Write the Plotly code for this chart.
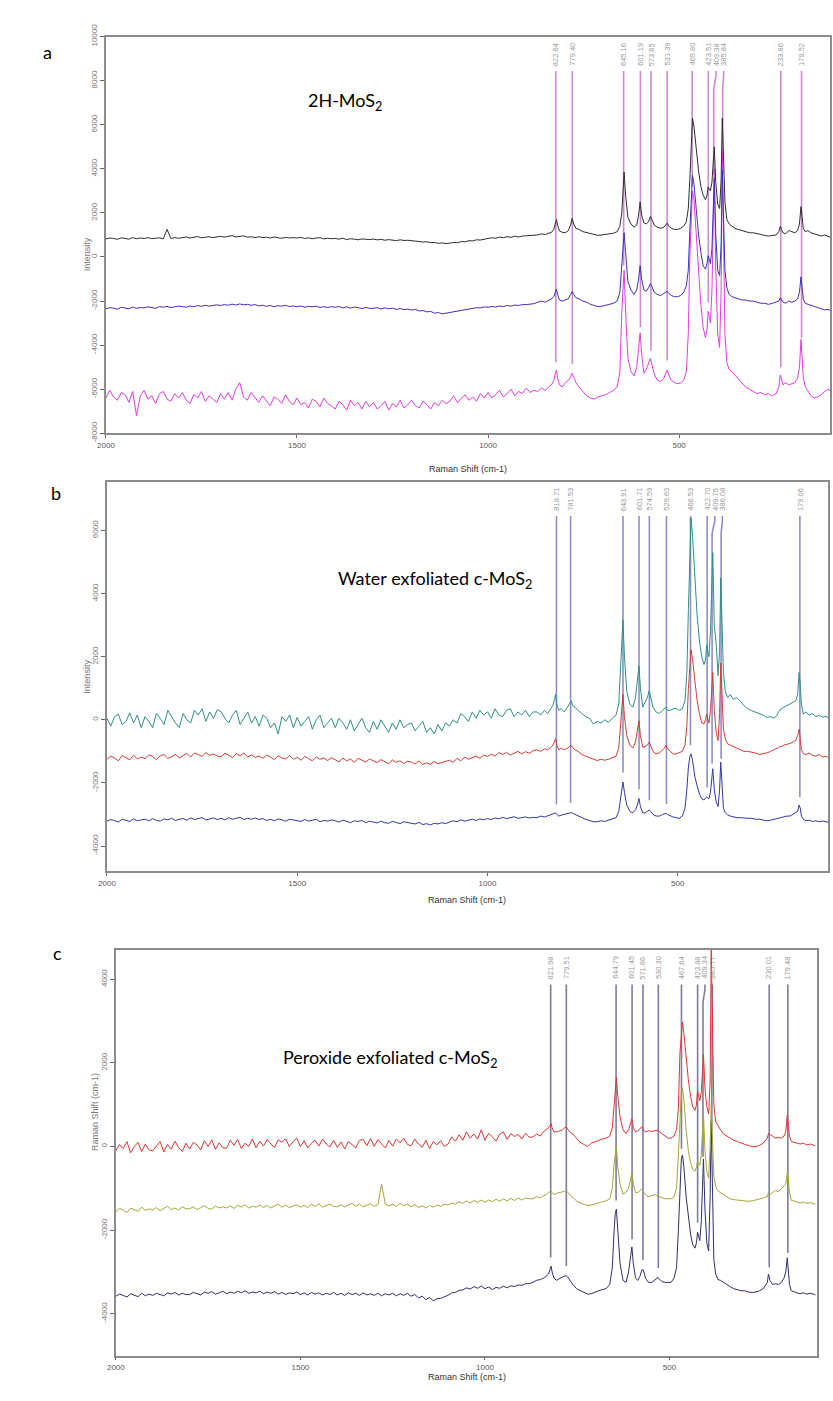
import numpy as np
import plotly.graph_objects as go

W, H = 833, 1401

# ---------------- data ----------------
raman_shift = [
    2000, 1990, 1980, 1970, 1960, 1950, 1940, 1930, 1920, 1910,
    1900, 1890, 1880, 1870, 1860, 1850, 1840, 1830, 1820, 1810,
    1800, 1790, 1780, 1770, 1760, 1750, 1740, 1730, 1720, 1710,
    1700, 1690, 1680, 1670, 1660, 1650, 1640, 1630, 1620, 1610,
    1600, 1590, 1580, 1570, 1560, 1550, 1540, 1530, 1520, 1510,
    1500, 1490, 1480, 1470, 1460, 1450, 1440, 1430, 1420, 1410,
    1400, 1390, 1380, 1370, 1360, 1350, 1340, 1330, 1320, 1310,
    1300, 1290, 1280, 1270, 1260, 1250, 1240, 1230, 1220, 1210,
    1200, 1190, 1180, 1170, 1160, 1150, 1140, 1130, 1120, 1110,
    1100, 1090, 1080, 1070, 1060, 1050, 1040, 1030, 1020, 1010,
    1000, 990, 980, 970, 960, 950, 940, 930, 920, 910,
    900, 890, 880,
    870, 860, 850, 842, 834, 828, 824, 821, 818, 813,
    806, 798, 790, 784, 780, 776, 770, 762, 752, 742,
    732, 722, 712, 702, 692, 682, 672, 662, 655, 650,
    647, 644, 640, 634, 626, 618, 611, 606, 602, 598,
    592, 586, 580, 575, 571, 565, 557, 548, 540, 535,
    531, 527, 520, 512, 504, 496, 488, 481, 476, 472,
    468, 465, 461, 455, 449, 443, 437, 431, 427, 424,
    421, 418, 414, 411, 408, 404, 399, 394, 390, 387,
    384, 380, 375, 369, 362, 354, 345, 336, 326, 316,
    306, 296, 286, 276, 266, 256, 246, 239, 235, 232,
    228, 221, 213, 205, 197, 190, 185, 181, 178, 175,
    170, 163, 155, 146, 137, 128, 119, 110, 105,
]

# panel a : 2H-MoS2
a_black = [
    820, 860, 840, 800, 870, 850, 810, 880, 830, 860,
    840, 880, 830, 850, 870, 820, 1250, 840, 880, 850,
    880, 910, 860, 900, 930, 870, 890, 920, 880, 910,
    940, 900, 950, 970, 910, 930, 960, 900, 920, 880,
    920, 880, 900, 860, 910, 870, 850, 890, 860, 880,
    860, 890, 840, 870, 830, 860, 880, 820, 850, 830,
    840, 810, 850, 790, 830, 810, 780, 820, 800, 790,
    810, 780, 800, 760, 790, 770, 740, 780, 750, 760,
    740, 710, 720, 680, 690, 650, 660, 620, 640, 610,
    630, 660, 650, 700, 690, 740, 730, 780, 770, 820,
    840, 870, 850, 900, 880, 920, 890, 940, 910, 950,
    960, 990, 1000,
    1000, 1050, 1020, 1080, 1120, 1250, 1500, 1700, 1450, 1180,
    1120, 1100, 1200, 1450, 1750, 1500, 1300, 1250, 1150, 1100,
    1050, 1000, 980, 1000, 1020, 1050, 1080, 1150, 1400, 2000,
    2900, 3850, 2800, 1800, 1500, 1350, 1450, 1900, 2500, 1900,
    1550, 1500, 1600, 1840, 1700, 1450, 1350, 1300, 1350, 1450,
    1540, 1400, 1300, 1250, 1250, 1300, 1400, 1600, 2200, 3500,
    5200, 6300, 5900, 4800, 3900, 3200, 2800, 2600, 2800, 3180,
    3100, 3000, 3400, 4300, 5000, 3400, 2400, 2200, 3500, 6300,
    4500, 2500, 1700, 1500, 1400, 1300, 1250, 1200, 1150, 1100,
    1100, 1050, 1000, 980, 950, 960, 1000, 1150, 1400, 1250,
    1100, 1050, 1200, 1150, 1100, 1200, 1500, 2290, 1800, 1300,
    1150, 1200, 1100, 1050, 1000, 950, 1000, 950, 900,
]
a_blue = [
    -2350, -2300, -2320, -2370, -2280, -2310, -2350, -2270, -2330, -2290,
    -2310, -2260, -2290, -2330, -2250, -2280, -2240, -2300, -2260, -2230,
    -2250, -2280, -2220, -2260, -2200, -2240, -2190, -2230, -2200, -2170,
    -2200, -2160, -2190, -2140, -2180, -2130, -2170, -2150, -2190, -2160,
    -2220, -2190, -2240, -2200, -2260, -2210, -2230, -2190, -2250, -2220,
    -2260, -2220, -2280, -2240, -2260, -2230, -2290, -2250, -2300, -2250,
    -2280, -2250, -2310, -2260, -2320, -2270, -2300, -2340, -2290, -2330,
    -2330, -2300, -2360, -2310, -2350, -2320, -2380, -2340, -2390, -2360,
    -2410, -2380, -2450, -2430, -2490, -2470, -2550, -2520, -2580, -2550,
    -2510, -2480, -2450, -2410, -2390, -2350, -2340, -2300, -2310, -2270,
    -2280, -2250, -2270, -2220, -2250, -2200, -2230, -2180, -2200, -2160,
    -2160, -2130, -2120,
    -2050, -2000, -2050, -1980, -1900, -1800, -1600, -1460, -1700, -1950,
    -2000, -1950, -1900, -1700, -1570, -1700, -1850, -1900, -2000, -2050,
    -2150, -2200, -2250, -2230, -2200, -2150, -2100, -2000, -1600, -300,
    600, 1100, 200, -1100, -1500, -1700, -1500, -1000, -390, -1000,
    -1500, -1550, -1400, -1200, -1350, -1600, -1700, -1750, -1650, -1600,
    -1560, -1650, -1750, -1800, -1800, -1750, -1600, -1300, -600, 1200,
    2800, 3700, 3300, 2000, 1000, 200, -400, -550, -300, 60,
    -100, -300, 400, 2200, 3570, 1000, -600, -840, 600, 3930,
    2000, -600, -1400, -1700, -1800, -1850, -1900, -1950, -1950, -2000,
    -2000, -2050, -2100, -2100, -2150, -2100, -2050, -2000, -1850, -1950,
    -2050, -2100, -2000, -2050, -2000, -1900, -1600, -900, -1300, -1900,
    -2100, -2150, -2200, -2250, -2300, -2350, -2400, -2380, -2420,
]
a_magenta = [
    -6400, -6050, -6350, -6500, -6150, -6250, -6600, -6100, -7200, -6300,
    -6050, -6450, -6300, -6650, -6200, -6100, -6450, -6550, -6200, -6400,
    -6150, -6500, -6650, -6250, -6400, -6100, -6550, -6300, -6450, -6600,
    -6200, -6450, -6150, -6500, -6000, -5700, -6350, -6500, -6150, -6400,
    -6600, -6300, -6500, -6750, -6350, -6450, -6650, -6250, -6550, -6700,
    -6400, -6700, -6600, -6850, -6450, -6550, -6800, -6400, -6650, -6750,
    -6900, -6550, -6700, -6950, -6500, -6750, -6600, -6900, -6550, -6800,
    -6600, -6900, -6750, -6550, -6950, -6650, -6800, -6500, -6850, -6700,
    -6500, -6750, -6850, -6550, -6700, -6900, -6600, -6750, -6500, -6650,
    -6550, -6300, -6600, -6400, -6250, -6500, -6350, -6550, -6200, -6400,
    -6150, -6400, -6250, -6050, -6350, -6200, -6000, -6300, -6100, -6200,
    -5950, -6150, -6050,
    -6100, -5950, -6050, -5900, -5800, -5600, -5300, -5130, -5500, -5800,
    -5900, -5700, -5600, -5450, -5280, -5450, -5700, -5900, -6100, -6300,
    -6400, -6450, -6350, -6300, -6250, -6150, -6050, -5900, -5200, -2500,
    -1200, -600, -2500, -4600, -5200, -5400, -5000, -4200, -3440, -4400,
    -5280, -5100, -4800, -4600, -4900, -5300, -5600, -5650, -5500, -5300,
    -5130, -5350, -5600, -5700, -5750, -5720, -5600, -5200, -3500, 0,
    2000, 3000, 2600, 1000, -800, -2200, -3200, -3660, -3300, -2470,
    -2700, -3000, -1500, 2500, 4000, -500, -3500, -4100, -1500, 4800,
    1000, -3500, -4800, -5100, -5200, -5350, -5500, -5700, -5900, -6000,
    -6100, -6200, -6150, -6250, -6200, -6300, -6200, -5900, -5350, -5600,
    -5800, -5700, -5800, -5750, -5700, -5500, -5000, -3740, -4500, -5500,
    -5870, -6100, -6300, -6400, -6350, -6250, -6100, -6000, -6050,
]

# panel b : water exfoliated c-MoS2
b_teal = [
    50, -200, 100, 180, -150, -50, 220, -100, 150, -250,
    100, -50, -250, 200, 50, -150, 300, 100, -100, -250,
    200, 0, -100, 300, 150, 350, -50, 250, 50, 320,
    250, 50, -100, 150, 300, -150, 50, 250, -100, 100,
    -200, 150, 50, -250, -100, -450, 100, -50, 150, -250,
    80, -200, -50, 100, -300, 0, 150, -250, -100, 50,
    -250, 50, -100, -300, 0, -350, -150, 50, -250, -400,
    -50, -300, 0, -200, -400, -100, -300, 0, -250, -150,
    -100, -350, -200, -50, -400, -250, -450, -150, -350, -100,
    -200, 0, -100, 200, 100, -50, 250, 50, 300, 150,
    250, 50, 350, 150, 100, 300, 350, 100, 250, 150,
    300, 100, 250,
    250, 150, 300, 200, 350, 450, 650, 810, 500, 300,
    350, 250, 400, 550, 600, 450, 400, 300, 200, 100,
    50, -130, -50, -100, 0, -80, 50, 150, 500, 1600,
    2600, 3170, 2000, 900, 500, 400, 700, 1200, 1700, 1000,
    400, 550, 700, 915, 700, 400, 250, 200, 300, 350,
    400, 300, 300, 350, 360, 300, 350, 600, 1500, 3500,
    5500, 6400, 5800, 4500, 3300, 2500, 2000, 1750, 1900, 2380,
    2200, 2000, 2800, 4500, 5300, 3000, 2400, 1400, 2200, 4500,
    3000, 1500, 900, 710, 800, 650, 700, 600, 450, 350,
    290, 250, 200, 150, 80, 100, 50, 150, 250, 300,
    350, 400, 450, 500, 550, 600, 800, 1500, 1100, 500,
    180, 250, 150, 200, 100, 150, 80, 120, 50,
]
b_red = [
    -1250, -1150, -1210, -1300, -1130, -1190, -1270, -1120, -1240, -1180,
    -1230, -1110, -1160, -1260, -1140, -1100, -1220, -1170, -1090, -1210,
    -1120, -1060, -1180, -1050, -1100, -1160, -1040, -1130, -1080, -1150,
    -1170, -1060, -1120, -1200, -1070, -1140, -1050, -1180, -1110, -1190,
    -1150, -1220, -1110, -1180, -1260, -1140, -1210, -1240, -1130, -1250,
    -1190, -1280, -1160, -1230, -1300, -1180, -1250, -1210, -1290, -1200,
    -1260, -1330, -1210, -1300, -1240, -1350, -1220, -1280, -1340, -1240,
    -1300, -1360, -1260, -1330, -1390, -1270, -1350, -1300, -1380, -1310,
    -1340, -1400, -1300, -1420, -1360, -1410, -1320, -1390, -1350, -1300,
    -1280, -1350, -1220, -1300, -1180, -1250, -1200, -1150, -1220, -1120,
    -1160, -1090, -1150, -1040, -1100, -1030, -1120, -1060, -1000, -1080,
    -1010, -1060, -980,
    -950, -1000, -920, -950, -880, -800, -700, -600, -800, -950,
    -900, -950, -900, -850, -810, -880, -950, -1000, -1100, -1150,
    -1200, -1250, -1290, -1250, -1280, -1250, -1200, -1150, -900, 0,
    500, 810, 100, -500, -800, -900, -700, -300, -30, -500,
    -870, -850, -800, -710, -850, -1000, -1080, -1050, -950, -900,
    -810, -900, -1000, -1080, -1080, -1050, -1000, -800, -200, 1000,
    1900, 2225, 1900, 1200, 600, 200, -100, -130, 0, 180,
    50, -100, 300, 1100, 1500, 300, -400, -660, 200, 1800,
    800, -300, -600, -760, -800, -850, -900, -950, -1000, -1000,
    -1015, -1050, -1100, -1080, -1050, -1000, -950, -900, -880, -850,
    -850, -800, -780, -750, -700, -650, -500, -290, -600, -950,
    -1080, -1100, -1050, -1120, -1150, -1100, -1180, -1150, -1200,
]
b_navy = [
    -3210, -3160, -3190, -3240, -3150, -3180, -3220, -3140, -3200, -3170,
    -3150, -3200, -3130, -3190, -3210, -3140, -3170, -3120, -3190, -3150,
    -3130, -3180, -3110, -3160, -3140, -3100, -3170, -3130, -3110, -3160,
    -3120, -3170, -3100, -3150, -3130, -3090, -3160, -3120, -3150, -3110,
    -3160, -3130, -3190, -3150, -3200, -3140, -3170, -3210, -3150, -3180,
    -3190, -3220, -3160, -3210, -3180, -3150, -3230, -3190, -3210, -3170,
    -3200, -3240, -3180, -3230, -3260, -3200, -3220, -3190, -3260, -3210,
    -3230, -3270, -3210, -3260, -3280, -3220, -3250, -3290, -3230, -3260,
    -3270, -3300, -3250, -3320, -3290, -3330, -3280, -3300, -3260, -3290,
    -3240, -3200, -3230, -3170, -3210, -3180, -3150, -3190, -3140, -3170,
    -3130, -3160, -3110, -3140, -3090, -3130, -3100, -3070, -3120, -3090,
    -3080, -3110, -3090,
    -3100, -3050, -3080, -3050, -3020, -3000, -2970, -2950, -3000, -3050,
    -3020, -3000, -2980, -2950, -2940, -2960, -3000, -3050, -3100, -3150,
    -3200, -3230, -3230, -3200, -3220, -3180, -3150, -3100, -2900, -2400,
    -2100, -1970, -2300, -2700, -2900, -2950, -2850, -2700, -2490, -2750,
    -2950, -2950, -2900, -2860, -2900, -3000, -3050, -3050, -3000, -2980,
    -2965, -3000, -3050, -3080, -3100, -3120, -3050, -2800, -2200, -1500,
    -1150, -1080, -1300, -1800, -2100, -2350, -2500, -2540, -2480, -2440,
    -2480, -2500, -2300, -1800, -1550, -2200, -2600, -2750, -2200, -1340,
    -2000, -2800, -2950, -3015, -3050, -3080, -3100, -3100, -3120, -3120,
    -3120, -3150, -3150, -3180, -3200, -3180, -3150, -3120, -3100, -3100,
    -3100, -3080, -3050, -3050, -3000, -2950, -2900, -2700, -2800, -3050,
    -3150, -3200, -3180, -3220, -3200, -3230, -3210, -3230, -3250,
]

# panel c : peroxide exfoliated c-MoS2
c_red = [
    -100, 50, -50, 120, -150, 0, 100, -120, 60, -80,
    -100, 20, 120, -130, 50, -60, 130, -20, -120, 80,
    -60, 100, 40, -80, 140, 0, 160, -70, 90, -30,
    -40, 150, 30, 170, -50, 80, 0, 180, -30, 130,
    10, 170, 60, -20, 160, 100, 190, 0, 120, 200,
    0, 140, -30, 80, 150, 10, 180, 60, -10, 150,
    -20, 110, -60, 120, 40, -30, 150, 170, 20, 190,
    0, 170, 60, -30, 150, 10, 180, 90, 200, 50,
    20, 180, 60, -20, 150, -50, 120, 40, 140, 0,
    60, 230, 130, 280, 150, 350, 200, 300, 180, 400,
    150, 320, 230, 130, 300, 350, 170, 310, 240, 290,
    180, 320, 220,
    230, 300, 250, 350, 400, 450, 500, 550, 450, 350,
    350, 380, 400, 450, 470, 420, 350, 300, 200, 100,
    50, 0, 80, 120, 150, 180, 200, 250, 450, 1000,
    1400, 1650, 1200, 700, 400, 310, 400, 550, 660, 450,
    350, 380, 420, 470, 400, 350, 380, 360, 380, 390,
    390, 350, 300, 250, 200, 200, 250, 400, 900, 2200,
    2800, 2980, 2700, 2100, 1600, 1200, 950, 865, 1000, 1335,
    1200, 1100, 1300, 1900, 2200, 1400, 950, 780, 1500, 4800,
    2500, 1000, 600, 500, 400, 300, 250, 200, 150, 120,
    80, 50, 20, 0, 0, 30, 80, 150, 200, 310,
    280, 250, 200, 220, 200, 250, 350, 750, 500, 250,
    120, 100, 80, 60, 80, 40, 60, 40, 20,
]
c_olive = [
    -1560, -1480, -1520, -1580, -1470, -1510, -1550, -1450, -1530, -1490,
    -1520, -1460, -1540, -1480, -1430, -1510, -1470, -1520, -1440, -1490,
    -1490, -1440, -1510, -1460, -1410, -1480, -1500, -1420, -1470, -1440,
    -1470, -1420, -1480, -1400, -1450, -1390, -1470, -1430, -1450, -1400,
    -1460, -1410, -1470, -1420, -1380, -1450, -1400, -1460, -1420, -1390,
    -1450, -1400, -1460, -1380, -1430, -1370, -1450, -1410, -1380, -1430,
    -1440, -1390, -1450, -1400, -1360, -1430, -1380, -1440, -1400, -1370,
    -1430, -1390, -900, -1370, -1420, -1380, -1430, -1360, -1410, -1380,
    -1440, -1390, -1460, -1420, -1470, -1410, -1450, -1400, -1430, -1380,
    -1400, -1350, -1380, -1320, -1360, -1300, -1350, -1290, -1340, -1280,
    -1330, -1280, -1320, -1260, -1310, -1250, -1300, -1240, -1290, -1230,
    -1280, -1230, -1250,
    -1250, -1200, -1230, -1180, -1150, -1100, -1070, -1060, -1100, -1150,
    -1120, -1100, -1080, -1070, -1060, -1100, -1150, -1200, -1300, -1350,
    -1380, -1410, -1400, -1380, -1350, -1320, -1300, -1250, -1000, -400,
    -150, 0, -500, -900, -1140, -1100, -1000, -800, -630, -900,
    -1100, -1100, -1050, -1020, -1080, -1150, -1200, -1170, -1150, -1170,
    -1170, -1200, -1230, -1250, -1250, -1250, -1200, -1000, -200, 800,
    1300, 1410, 1100, 400, -100, -400, -550, -590, -500, -350,
    -400, -450, -200, 500, 800, -100, -600, -760, 0, 1000,
    200, -700, -950, -1060, -1100, -1150, -1200, -1250, -1270, -1280,
    -1290, -1300, -1310, -1300, -1280, -1250, -1230, -1200, -1200, -1100,
    -1150, -1100, -1050, -1080, -1000, -950, -900, -630, -800, -1100,
    -1290, -1300, -1320, -1350, -1330, -1360, -1340, -1370, -1380,
]
c_navy = [
    -3580, -3530, -3560, -3600, -3520, -3550, -3590, -3510, -3570, -3530,
    -3560, -3510, -3540, -3570, -3500, -3530, -3490, -3550, -3510, -3540,
    -3540, -3490, -3520, -3550, -3480, -3510, -3470, -3530, -3500, -3460,
    -3520, -3480, -3510, -3460, -3500, -3450, -3510, -3480, -3500, -3460,
    -3520, -3480, -3510, -3470, -3530, -3490, -3540, -3500, -3520, -3480,
    -3540, -3500, -3550, -3490, -3530, -3500, -3550, -3510, -3540, -3490,
    -3550, -3510, -3560, -3500, -3540, -3510, -3560, -3500, -3550, -3520,
    -3560, -3510, -3570, -3520, -3550, -3510, -3570, -3520, -3560, -3510,
    -3580, -3540, -3620, -3580, -3660, -3610, -3690, -3640, -3630, -3590,
    -3560, -3500, -3490, -3440, -3430, -3380, -3410, -3350, -3390, -3340,
    -3400, -3360, -3420, -3370, -3390, -3340, -3380, -3330, -3350, -3310,
    -3320, -3280, -3280,
    -3250, -3200, -3180, -3150, -3100, -3050, -2950, -2860, -3000, -3150,
    -3200, -3150, -3120, -3100, -3090, -3120, -3200, -3300, -3400, -3450,
    -3500, -3530, -3520, -3480, -3450, -3420, -3400, -3300, -2900, -2000,
    -1600, -1500, -2100, -2800, -3200, -3250, -3000, -2700, -2400, -2800,
    -3150, -3200, -3100, -2950, -2950, -3150, -3250, -3250, -3200, -3150,
    -3130, -3180, -3230, -3250, -3250, -3250, -3150, -2900, -2000, -900,
    -300, -200, -500, -1200, -1700, -2100, -2350, -2430, -2300, -2050,
    -2150, -2250, -1800, -700, -300, -1500, -2300, -2500, -1200, 600,
    -800, -2700, -3050, -3180, -3200, -3250, -3300, -3350, -3400, -3420,
    -3450, -3450, -3480, -3490, -3480, -3450, -3400, -3300, -3250, -3050,
    -3200, -3300, -3280, -3300, -3250, -3150, -3000, -2660, -2900, -3300,
    -3450, -3480, -3500, -3520, -3500, -3530, -3510, -3530, -3550,
]

peaks_a = [822.64, 779.40, 645.16, 601.19, 573.65, 531.39, 465.80, 423.51, 409.38, 385.84, 233.86, 179.52]
peaks_b = [818.71, 781.53, 643.91, 601.71, 574.59, 529.63, 466.53, 422.70, 409.75, 386.08, 179.06]
peaks_c = [821.98, 779.51, 644.79, 601.45, 571.86, 530.30, 467.64, 423.88, 409.34, 385.77, 230.01, 179.48]

x_ticks = [2000, 1500, 1000, 500]
y_ticks_a = [-8000, -6000, -4000, -2000, 0, 2000, 4000, 6000, 8000, 10000]
y_ticks_b = [-4000, -2000, 0, 2000, 4000, 6000]
y_ticks_c = [-4000, -2000, 0, 2000, 4000]

for name, arr in [("a_black", a_black), ("a_blue", a_blue), ("a_magenta", a_magenta),
                  ("b_teal", b_teal), ("b_red", b_red), ("b_navy", b_navy),
                  ("c_red", c_red), ("c_olive", c_olive), ("c_navy", c_navy)]:
    if len(arr) != len(raman_shift):
        raise ValueError(f"{name}: {len(arr)} values vs {len(raman_shift)} shifts")

# ---------------- layout of the three panels (pixels) ----------------
panels = [
    dict(xdom=(98, 830), ydom=(24, 427), yr=(-8000, 10000), xr=(2000, 105), yt=y_ticks_a,
         spectra=[(a_magenta, "#e03ce0"), (a_blue, "#3b30c4"), (a_black, "#2e2e2e")],
         bottom=a_magenta, peaks=peaks_a, lcolor="rgba(196,118,200,0.85)",
         ytitle="Intensity", ytx=72, title="2H-MoS<sub>2</sub>", tx=1374, tdy=66,
         letter="a", lpos=(32, 26)),
    dict(xdom=(99, 828), ydom=(476, 872), yr=(-4800, 7550), xr=(2000, 105), yt=y_ticks_b,
         spectra=[(b_navy, "#3434b0"), (b_red, "#d83a3a"), (b_teal, "#2f8f86")],
         bottom=b_navy, peaks=peaks_b, lcolor="rgba(122,122,190,0.85)",
         ytitle="Intensity", ytx=72, title="Water exfoliated c-MoS<sub>2</sub>", tx=1139, tdy=100,
         letter="b", lpos=(40, 488)),
    dict(xdom=(108, 817), ydom=(952, 1364), yr=(-5000, 4700), xr=(2000, 100), yt=y_ticks_c,
         spectra=[(c_navy, "#2e2e72"), (c_olive, "#a6a636"), (c_red, "#e03434")],
         bottom=c_navy, peaks=peaks_c, lcolor="rgba(100,100,140,0.85)",
         ytitle="Raman Shift (cm-1)", ytx=80, title="Peroxide exfoliated c-MoS<sub>2</sub>", tx=1257, tdy=110,
         letter="c", lpos=(42, 968)),
]

xs_sorted = np.array(raman_shift[::-1], dtype=float)

fig = go.Figure()
annotations = []
layout = dict(width=W, height=H, margin=dict(l=0, r=0, t=0, b=0),
              paper_bgcolor="white", plot_bgcolor="white", showlegend=False)

for i, p in enumerate(panels, start=1):
    xa = "x" if i == 1 else f"x{i}"
    ya = "y" if i == 1 else f"y{i}"
    xl = "xaxis" if i == 1 else f"xaxis{i}"
    yl = "yaxis" if i == 1 else f"yaxis{i}"
    px0, px1 = p["xdom"]
    py0, py1 = p["ydom"]
    ymin, ymax = p["yr"]
    upp = (ymax - ymin) / (py1 - py0)  # data units per pixel

    # peak marker lines with their labels
    line_top = ymax - 35 * upp
    kink1 = ymax - 40 * upp
    kink2 = ymax - 53 * upp
    label_y = ymax - 18 * upp
    gap = 10 * upp
    bottom_sorted = np.array(p["bottom"][::-1], dtype=float)
    lx, ly = [], []
    prev = None
    for pk in p["peaks"]:
        pos = pk if prev is None else min(pk, prev - 20)
        prev = pos
        bot = float(np.interp(pk, xs_sorted, bottom_sorted)) + gap
        lx += [pos, pos, pk, pk, None]
        ly += [line_top, kink1, kink2, bot, None]
        annotations.append(dict(x=pos, y=label_y, xref=xa, yref=ya, text=f"{pk:.2f}",
                                textangle=-90, showarrow=False,
                                font=dict(size=7.5, color="#9a9a9a", family="Liberation Sans")))
    fig.add_trace(go.Scatter(x=lx, y=ly, mode="lines", xaxis=xa, yaxis=ya,
                             line=dict(color=p["lcolor"], width=1.6), hoverinfo="skip"))

    for vals, col in p["spectra"]:
        fig.add_trace(go.Scatter(x=raman_shift, y=vals, mode="lines", xaxis=xa, yaxis=ya,
                                 line=dict(color=col, width=1), hoverinfo="skip"))

    layout[xl] = dict(domain=[px0 / W, px1 / W], range=list(p["xr"]), anchor=ya,
                      tickvals=x_ticks, ticktext=[str(v) for v in x_ticks],
                      ticks="outside", ticklen=3, tickcolor="#666",
                      tickfont=dict(size=8, color="#555", family="Liberation Sans"),
                      showline=True, mirror=True, linecolor="#8c8c8c", linewidth=1.5,
                      showgrid=False, zeroline=False)
    layout[yl] = dict(domain=[1 - py1 / H, 1 - py0 / H], range=[ymin, ymax], anchor=xa,
                      tickvals=p["yt"], ticktext=[str(v) for v in p["yt"]], tickangle=-90,
                      ticks="outside", ticklen=4, tickcolor="#666",
                      tickfont=dict(size=8, color="#777", family="Liberation Sans"),
                      showline=True, mirror=True, linecolor="#8c8c8c", linewidth=1.5,
                      showgrid=False, zeroline=False)

    # axis titles
    annotations.append(dict(x=(px0 + px1) / 2 / W, y=1 - (py1 + 29) / H, xref="paper", yref="paper",
                            text="Raman Shift (cm-1)", showarrow=False,
                            font=dict(size=9, color="#333", family="Liberation Sans")))
    annotations.append(dict(x=p["ytx"] / W, y=1 - (py0 + py1) / 2 / H, xref="paper", yref="paper",
                            text=p["ytitle"], textangle=-90, showarrow=False,
                            font=dict(size=9, color="#777", family="Liberation Sans")))
    # panel title inside the plot
    annotations.append(dict(x=p["tx"], y=ymax - p["tdy"] * upp, xref=xa, yref=ya, text=p["title"],
                            showarrow=False, font=dict(size=18, color="black", family="Lato")))
    # panel letter
    annotations.append(dict(x=p["lpos"][0] / W, y=1 - p["lpos"][1] / H, xref="paper", yref="paper",
                            text=p["letter"], showarrow=False,
                            font=dict(size=18, color="black", family="Lato")))

layout["annotations"] = annotations
fig.update_layout(**layout)
fig.write_html("out.html")
